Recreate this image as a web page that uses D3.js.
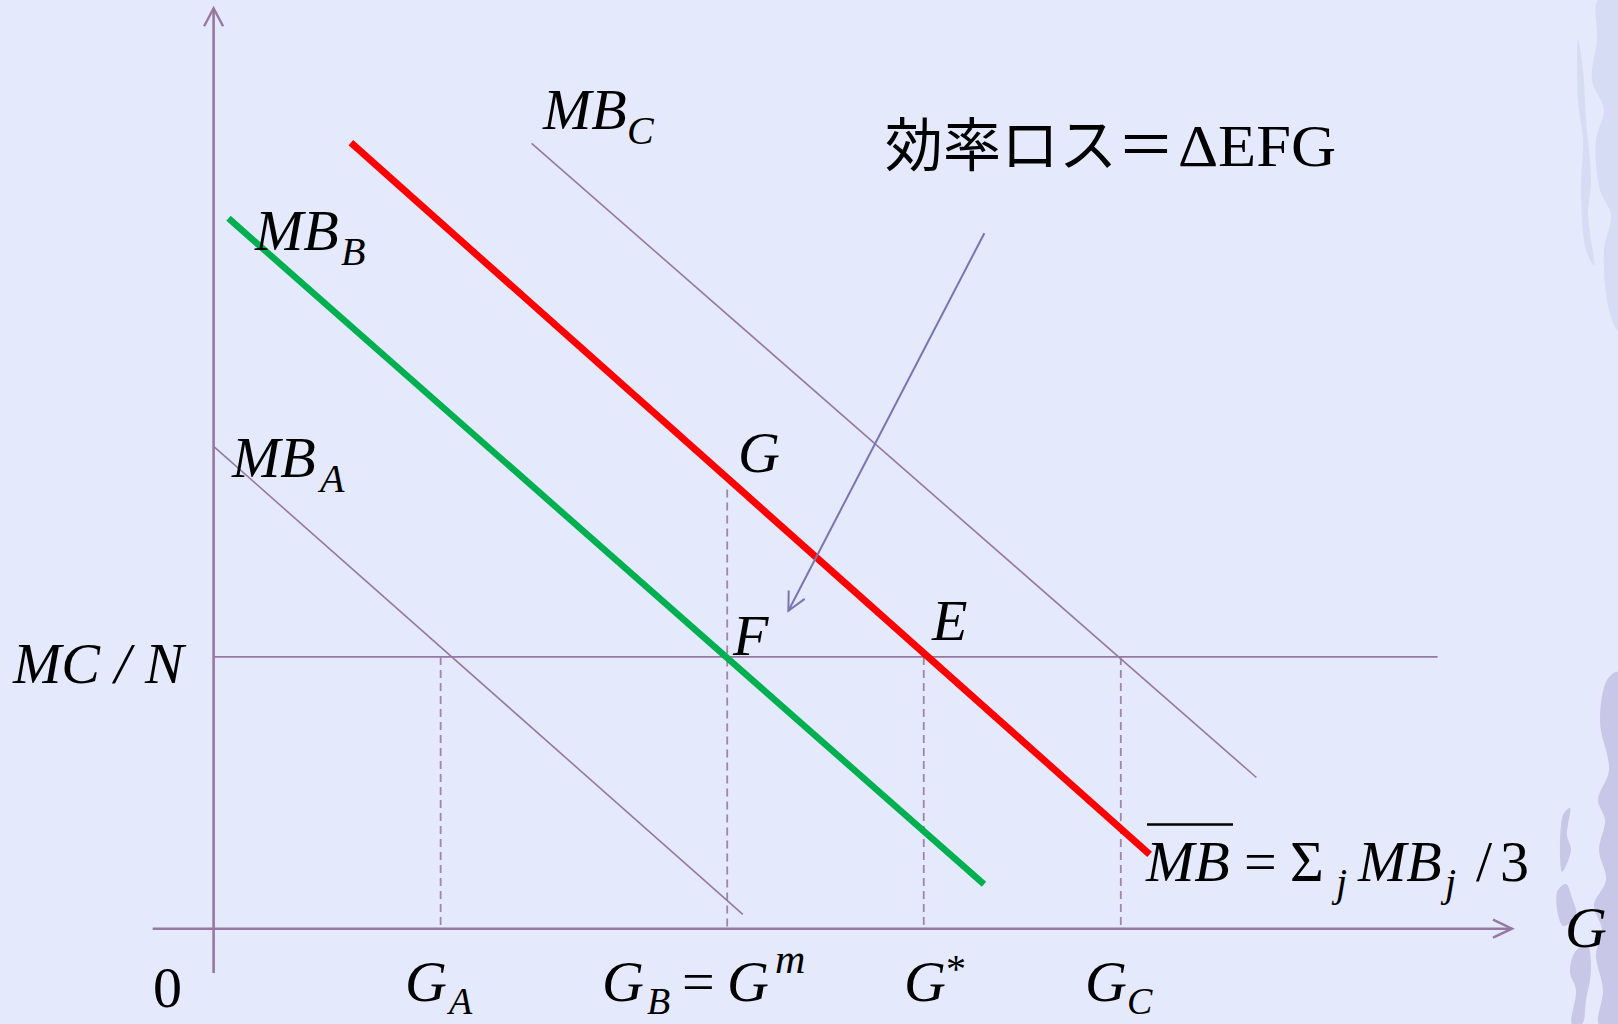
<!DOCTYPE html>
<html>
<head>
<meta charset="utf-8">
<script src="https://cdn.jsdelivr.net/npm/d3@7"></script>
<style>
  html, body { margin: 0; padding: 0; background: #e4e9fc; }
  svg { display: block; }
</style>
</head>
<body>
<svg id="chart"></svg>
<script>
// curves in diagram units (G on x, value on y)
const curveNames = ["MB_A", "MB_B", "MB_bar", "MB_C"];
const curveStart = [[0, 40.2], [1.24, 59.2], [11.44, 65.5], [26.5, 65.45]];
const curveEnd = [[44.1, 1.2], [64.2, 3.7], [78.0, 6.2], [86.9, 12.6]];

const mcLevel = 22.65;
const mcLineEnd = 102;

// dashed drop lines: G_A, G_B (=G^m), G*, G_C
const dropNames = ["G_A", "G_B", "G_star", "G_C"];
const dropX = [18.92, 42.8, 59.18, 75.6];
const dropTop = [mcLevel, 36.6, mcLevel, mcLevel];

// annotation arrow pointing into triangle EFG
const noteFrom = [64.23, 57.96];
const noteTo = [47.9, 26.5];

// axis extents
const xAxisRange = [-5.08, 108.2];
const yAxisRange = [-3.7, 76.7];

const width = 1618, height = 1024;

const x = d3.scaleLinear().domain([0, 100]).range([213.6, 1413.6]);
const y = d3.scaleLinear().domain([0, 100]).range([928.7, -271.3]);

const axisColor = "#9678a2";
const serif = "'Liberation Serif', 'Times New Roman', serif";

const svg = d3.select("#chart")
  .attr("width", width)
  .attr("height", height)
  .attr("viewBox", `0 0 ${width} ${height}`);

svg.append("rect").attr("width", width).attr("height", height).attr("fill", "#e4e9fc");

// faint background texture at the right edge
const texTop = [
  [[1598,0],[1618,0],[1618,330],[1609,310],[1604,250],[1611,215],[1600,190],[1596,140],[1604,110],[1592,80],[1597,40]],
  [[1578,40],[1583,70],[1586,120],[1591,180],[1588,215],[1594,265],[1586,250],[1581,190],[1583,140],[1578,100]]
];
const texBottom = [
  [[1607,680],[1618,672],[1618,1024],[1599,1024],[1603,990],[1596,955],[1602,930],[1594,905],[1606,880],[1599,850],[1605,820],[1598,800],[1609,770],[1600,722]],
  [[1563,815],[1570,808],[1567,835],[1571,850],[1562,872]],
  [[1557,892],[1566,884],[1572,898],[1576,915],[1563,926]],
  [[1575,952],[1587,944],[1591,970],[1586,1000],[1582,1024],[1572,1024],[1576,990],[1570,972]]
];
const deco = svg.append("g");
deco.selectAll("path.top").data(texTop).enter().append("path")
  .attr("class", "top")
  .attr("d", d => d3.line().curve(d3.curveCatmullRomClosed)(d))
  .attr("fill", "#cad1ec").attr("opacity", 0.55);
deco.selectAll("path.bot").data(texBottom).enter().append("path")
  .attr("class", "bot")
  .attr("d", d => d3.line().curve(d3.curveCatmullRomClosed)(d))
  .attr("fill", "#b7b0d8").attr("opacity", 0.6);

const line = d3.line().x(d => x(d[0])).y(d => y(d[1]));

// open arrowhead at the end of a segment (pixel space)
function arrowHead(p0, p1, len, half) {
  const dx = p1[0] - p0[0], dy = p1[1] - p0[1];
  const L = Math.hypot(dx, dy), ux = dx / L, uy = dy / L;
  const bx = p1[0] - ux * len, by = p1[1] - uy * len;
  return `M${bx - uy * half},${by + ux * half}L${p1[0]},${p1[1]}L${bx + uy * half},${by - ux * half}`;
}

// axes
const g = svg.append("g");
g.append("path")
  .attr("d", line([[xAxisRange[0], 0], [xAxisRange[1], 0]]))
  .attr("stroke", axisColor).attr("stroke-width", 2.6).attr("fill", "none");
g.append("path")
  .attr("d", line([[0, yAxisRange[0]], [0, yAxisRange[1]]]))
  .attr("stroke", axisColor).attr("stroke-width", 2.6).attr("fill", "none");
g.append("path")
  .attr("d", arrowHead([x(xAxisRange[0]), y(0)], [x(xAxisRange[1]), y(0)], 19, 9))
  .attr("stroke", axisColor).attr("stroke-width", 2.4).attr("fill", "none");
g.append("path")
  .attr("d", arrowHead([x(0), y(yAxisRange[0])], [x(0), y(yAxisRange[1])], 18, 9.5))
  .attr("stroke", axisColor).attr("stroke-width", 2.4).attr("fill", "none");

// MC/N level
g.append("path")
  .attr("d", line([[0, mcLevel], [mcLineEnd, mcLevel]]))
  .attr("stroke", axisColor).attr("stroke-width", 1.8).attr("fill", "none");

// dashed drop lines
g.selectAll("path.drop").data(dropNames).enter().append("path")
  .attr("class", "drop")
  .attr("d", (d, i) => line([[dropX[i], dropTop[i]], [dropX[i], 0]]))
  .attr("stroke", "#a085aa").attr("stroke-width", 1.8)
  .attr("stroke-dasharray", "8,5").attr("fill", "none");

// MB curves
const curveStyle = {
  MB_A: { stroke: axisColor, w: 1.6 },
  MB_B: { stroke: "#00b050", w: 6.5 },
  MB_bar: { stroke: "#ff0000", w: 7 },
  MB_C: { stroke: axisColor, w: 1.6 }
};
g.selectAll("path.curve").data(curveNames).enter().append("path")
  .attr("class", "curve")
  .attr("d", (d, i) => line([curveStart[i], curveEnd[i]]))
  .attr("stroke", d => curveStyle[d].stroke)
  .attr("stroke-width", d => curveStyle[d].w)
  .attr("fill", "none");

// annotation arrow
const nf = [x(noteFrom[0]), y(noteFrom[1])], nt = [x(noteTo[0]), y(noteTo[1])];
g.append("path").attr("d", `M${nf}L${nt}`)
  .attr("stroke", "#7676b2").attr("stroke-width", 2).attr("fill", "none");
g.append("path").attr("d", arrowHead(nf, nt, 18, 9))
  .attr("stroke", "#7676b2").attr("stroke-width", 2).attr("fill", "none");

// text helpers
const T = svg.append("g").attr("fill", "#000").style("font-family", serif);
function txt(str, px, py, size, italic) {
  return T.append("text").attr("x", px).attr("y", py)
    .style("font-size", size + "px")
    .style("font-style", italic ? "italic" : "normal")
    .text(str);
}
const big = 58, small = 40;

// curve labels
txt("MB", 543, 129, big, true); txt("C", 627, 144, small, true);
txt("MB", 255, 250, big, true); txt("B", 341, 265, small, true);
txt("MB", 232, 477, big, true); txt("A", 320, 492, small, true);

// points
txt("G", 738, 472, big, true);
txt("F", 733, 655, big, true);
txt("E", 932, 640, big, true);

// axis labels
txt("MC / N", 13, 683, big, true);
txt("0", 153, 1007, big, false);
txt("G", 1565, 947, big, true);

txt("G", 405, 1001, big, true); txt("A", 449, 1014, 38, true);
txt("G", 602, 1001, big, true); txt("B", 647, 1014, 38, true);
txt("=", 682, 1001, big, false);
txt("G", 727, 1001, big, true); txt("m", 775, 973, 42, true);
txt("G", 904, 1001, big, true); txt("*", 946, 982, small, false);
txt("G", 1085, 1001, big, true); txt("C", 1127, 1014, 38, true);

// MB bar formula
txt("MB", 1146, 881, big, true);
T.append("line").attr("x1", 1147).attr("x2", 1233).attr("y1", 824.5).attr("y2", 824.5)
  .attr("stroke", "#000").attr("stroke-width", 2.4);
txt("=", 1244, 881, big, false);
txt("\u03A3", 1290, 881, big, false);
txt("j", 1336, 896, small, true);
txt("MB", 1358, 881, big, true);
txt("j", 1445, 896, small, true);
txt("/", 1476, 881, big, false);
txt("3", 1500, 881, big, false);

// efficiency loss note
T.append("text").attr("x", 885).attr("y", 166)
  .style("font-family", "'Noto Sans CJK JP', sans-serif")
  .style("font-size", "58px")
  .text("効率ロス＝");
T.append("text").attr("x", 1178).attr("y", 166)
  .style("font-size", "60px")
  .attr("textLength", 158).attr("lengthAdjust", "spacingAndGlyphs")
  .text("ΔEFG");
</script>
</body>
</html>
